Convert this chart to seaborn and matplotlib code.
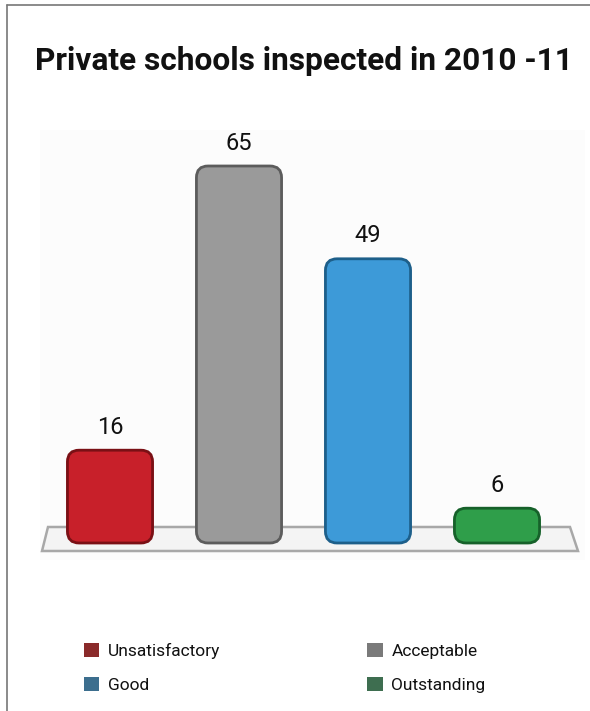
import pandas as pd
import matplotlib
matplotlib.use("Agg")
import matplotlib.pyplot as plt
from matplotlib.patches import FancyBboxPatch, Polygon, Patch
from matplotlib.lines import Line2D
import seaborn as sns

# Data
categories = ["Unsatisfactory", "Acceptable", "Good", "Outstanding"]
counts = [16, 65, 49, 6]
bar_colors = ["#c8202a", "#9a9a9a", "#3d9ad8", "#2f9e4a"]
edge_colors = ["#7a1015", "#5c5c5c", "#1d5f8a", "#16612a"]
legend_colors = ["#8a2a2a", "#7a7a7a", "#3c6e8e", "#3e6e50"]

sns.set_theme(style="white")
plt.rcParams["font.family"] = ["Roboto", "DejaVu Sans"]

W, H = 590, 711
fig = plt.figure(figsize=(W / 100, H / 100), dpi=100)
fig.patch.set_facecolor("white")

# frame lines (box continues past the crop)
fig.add_artist(Line2D([7 / W, 7 / W], [0, 1 - 5 / H], color="#777777", lw=1.2))
fig.add_artist(Line2D([7 / W, 1], [1 - 5 / H, 1 - 5 / H], color="#777777", lw=1.2))

fig.text(35 / W, 1 - 61 / H, "Private schools inspected in 2010 -11",
         fontsize=22.8, fontweight="bold", va="center", ha="left", color="#111111")

# axes: px 40..585 horizontally, 130..560 vertically
ax = fig.add_axes([40 / W, 1 - 560 / H, 545 / W, 430 / H])
ax.set_facecolor("#fcfcfc")

df = pd.DataFrame({"category": categories, "count": counts})
sns.barplot(data=df, x="category", y="count", hue="category",
            palette=bar_colors, width=0.66, ax=ax, legend=False, saturation=1)

px_x = 129.0   # px per category
px_y = 5.8     # px per unit
ax.set_xlim(-70 / px_x, 3 + 88 / px_x)
ax.set_ylim(-17 / px_y, 413 / px_y)

# floor platform
floor = Polygon([(-62 / px_x, 16 / px_y), (3 + 73 / px_x, 16 / px_y),
                 (3 + 81 / px_x, -8 / px_y), (-68 / px_x, -8 / px_y)],
                closed=True, facecolor="#f4f4f4", edgecolor="#a8a8a8",
                lw=1.8, zorder=1)
ax.add_patch(floor)

# rounded bars built from the seaborn patches
aspect = (1 / px_y) / (1 / px_x)
for patch, ec in zip(list(ax.patches[:len(categories)]), edge_colors):
    x0, y0 = patch.get_x(), patch.get_y()
    w, h = patch.get_width(), patch.get_height()
    rb = FancyBboxPatch((x0, y0), w, h,
                        boxstyle="round,pad=0,rounding_size=0.09",
                        mutation_aspect=aspect,
                        facecolor=patch.get_facecolor(), edgecolor=ec,
                        lw=2, zorder=3)
    ax.add_patch(rb)
    patch.set_visible(False)

for i, v in enumerate(counts):
    ax.text(i, v + 23 / px_y, str(v), ha="center", va="center",
            fontsize=17, color="#111111")

ax.set_xticks([])
ax.set_yticks([])
ax.set_xlabel("")
ax.set_ylabel("")
for s in ax.spines.values():
    s.set_visible(False)

# legend
handles = [Patch(facecolor=c, edgecolor="none") for c in legend_colors]
order = [0, 2, 1, 3]
fig.legend([handles[i] for i in order], [categories[i] for i in order],
           ncol=2, frameon=False, loc="upper left",
           bbox_to_anchor=(68 / W, 1 - 627 / H), fontsize=12.5,
           labelcolor="#111111",
           handlelength=0.9, handleheight=0.9, handletextpad=0.5,
           columnspacing=8.45, labelspacing=1.05)

fig.savefig("out.png", dpi=100, facecolor="white")
